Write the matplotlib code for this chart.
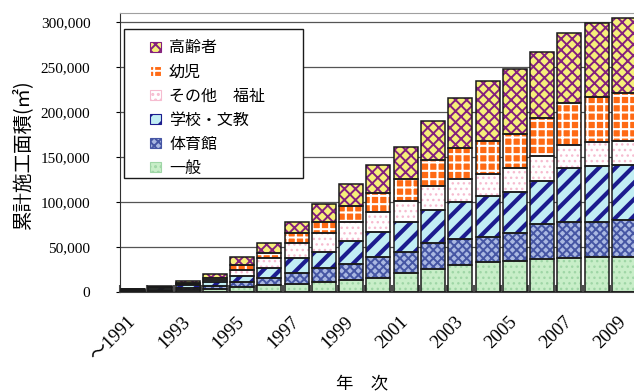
import numpy as np
import matplotlib
matplotlib.use("Agg")
import matplotlib.pyplot as plt
from matplotlib.patches import Patch, Rectangle
from matplotlib.legend_handler import HandlerPatch
from matplotlib.ticker import FuncFormatter
from matplotlib.transforms import ScaledTranslation

# cumulative construction area by year and building type (m2)
years = list(range(1991, 2010))
tick_labels = ["～1991", "1993", "1995", "1997", "1999", "2001", "2003", "2005", "2007", "2009"]

ippan = [200, 600, 1500, 3500, 4900, 7500, 8300, 11200, 13000, 15600,
         20500, 25300, 29800, 32800, 34600, 36100, 37300, 39100, 39100]
taiikukan = [400, 900, 3000, 3300, 6300, 8100, 12900, 14900, 17500, 23500,
             24100, 29400, 29000, 28600, 30600, 39100, 40800, 39000, 40900]
gakko = [1600, 2500, 2500, 3500, 6000, 10500, 16100, 18200, 26100, 27100,
         33500, 36500, 41600, 45700, 45700, 48000, 59600, 61400, 60600]
sonota = [300, 900, 1500, 3000, 7000, 11200, 17400, 20900, 21500, 23100,
          23100, 26000, 25000, 24300, 26400, 27500, 26000, 27200, 27600]
yoji = [100, 500, 1300, 2500, 5600, 5500, 10500, 12900, 17500, 20500,
        24600, 29000, 34600, 36800, 37900, 42400, 46100, 50200, 53200]
koureisha = [100, 1000, 2500, 3500, 8600, 11200, 12900, 19400, 24200, 31600,
             34900, 43500, 55800, 66900, 73000, 73600, 78600, 81800, 82900]

names = ["一般", "体育館", "学校・文教", "その他　福祉", "幼児", "高齢者"]
values = [ippan, taiikukan, gakko, sonota, yoji, koureisha]
faces = ["#c8eec8", "#aab8e2", "#c2eef4", "#ffffff", "#ff6a14", "#f6f07a"]
hatch_colors = ["#9fd6a6", "#4656a4", "#1c1c8e", "#f6bcd0", "#ffffff", "#84207e"]
hatches = ["...", "xxxx", "//", "...", "++", "xxx"]
hatch_lws = [1.0, 1.4, 3.0, 1.0, 1.5, 1.4]

jp = ["Noto Sans CJK JP", "DejaVu Sans"]
serif = ["Liberation Serif", "Noto Sans CJK JP"]

fig = plt.figure(figsize=(6.34, 3.92), dpi=100)
ax = fig.add_axes([119.5 / 634, 1 - 291.7 / 392, 545.2 / 634, 278.4 / 392])

x = np.arange(len(years))
bottom = np.zeros(len(years))
handles = []
for name, vals, fc, hc, h, hlw in zip(names, values, faces, hatch_colors, hatches, hatch_lws):
    plt.rcParams["hatch.linewidth"] = hlw
    vals = np.array(vals)
    bars = ax.bar(x, vals, width=0.88, bottom=bottom, color=fc, edgecolor=hc,
                  hatch=h, linewidth=0, zorder=2)
    for b in bars:
        if hasattr(b, "set_hatch_linewidth"):
            b.set_hatch_linewidth(hlw)
    ax.bar(x, vals, width=0.88, bottom=bottom, fill=False, edgecolor="#1a1a1a",
           linewidth=1.1, zorder=3)
    p = Patch(facecolor=fc, edgecolor=hc, hatch=h, linewidth=0.8, label=name)
    if hasattr(p, "set_hatch_linewidth"):
        p.set_hatch_linewidth(hlw)
    handles.append(p)
    bottom = bottom + vals

ax.set_xlim(-0.5, 19.5)
ax.set_ylim(0, 310000)
ax.set_yticks(np.arange(0, 300001, 50000))
ax.yaxis.set_major_formatter(FuncFormatter(lambda v, p: f"{int(v):,}"))
ax.grid(axis="y", color="#555555", linewidth=0.9)
ax.set_axisbelow(True)

ax.set_xticks(x[::2])
ax.set_xticklabels(tick_labels, rotation=45, ha="right", va="center",
                   rotation_mode="anchor", family=serif, fontsize=13.5)
shift = ScaledTranslation(-12 / 100, 0, fig.dpi_scale_trans)
for t in ax.get_xticklabels():
    t.set_transform(t.get_transform() + shift)
ax.set_xticks(np.arange(-0.5, 19.5, 1), minor=True)
ax.tick_params(axis="x", which="major", length=0, pad=20)
ax.tick_params(axis="x", which="minor", direction="in", length=5, width=1.5, color="#505050")
ax.tick_params(axis="y", length=3, pad=18, labelsize=11)
for t in ax.get_yticklabels():
    t.set_family(serif)

ax.spines["right"].set_visible(False)
ax.spines["top"].set_color("#a0a0a0")
ax.spines["left"].set_color("#303030")
ax.spines["bottom"].set_color("#404040")
ax.spines["bottom"].set_linewidth(1.5)

ax.set_ylabel("累計施工面積(㎡)", family=jp, fontsize=14)
ax.yaxis.set_label_coords(23 / 634, 1 - 154 / 392, transform=fig.transFigure)
ax.yaxis.label.set_va("center")
ax.set_xlabel("年　次", family=jp, fontsize=12.5)
ax.xaxis.set_label_coords(362 / 634, 1 - 383 / 392, transform=fig.transFigure)
ax.xaxis.label.set_va("center")


def square_handle(legend, orig_handle, xdescent, ydescent, width, height, fontsize):
    s = 7.5
    return Rectangle((-xdescent + width - s, -ydescent + (height - s) / 2), s, s)


# legend box frame
ax.add_patch(Rectangle((124 / 634, 1 - 178.5 / 392), (303 - 124) / 634, 149.5 / 392,
                       transform=fig.transFigure, facecolor="white", edgecolor="#1a1a1a",
                       linewidth=1.0, zorder=4, clip_on=False))
leg = ax.legend(handles[::-1], names[::-1], loc="center left",
                bbox_to_anchor=(124 / 634, 1 - 108 / 392),
                bbox_transform=fig.transFigure, frameon=False,
                prop={"family": jp, "size": 11.5},
                borderpad=0.46, handlelength=1.83, handleheight=0.9,
                handletextpad=0.53, labelspacing=0.44, borderaxespad=0,
                handler_map={Patch: HandlerPatch(patch_func=square_handle)})
leg.set_zorder(5)

fig.savefig("out.png", dpi=100)
